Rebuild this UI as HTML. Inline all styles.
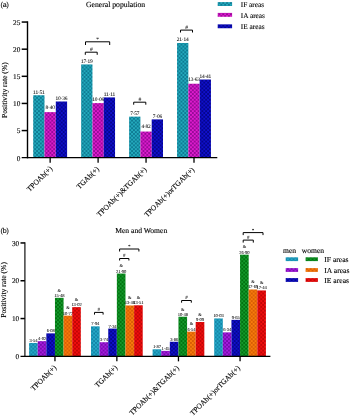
<!DOCTYPE html>
<html lang="en"><head><meta charset="utf-8"><title>Positivity rate charts</title>
<style>
html,body{margin:0;padding:0;background:#fff;}
body{width:350px;height:417px;overflow:hidden;}
svg{display:block;will-change:transform;}
text{fill:#000;text-rendering:geometricPrecision;stroke:#000;stroke-width:0.12px;}
text.s{stroke-width:0.04px;}
</style></head><body>
<svg width="350" height="417" viewBox="0 0 350 417">
<rect width="350" height="417" fill="#fff"/>
<defs>
<pattern id="paIF" width="3.8" height="3.8" patternUnits="userSpaceOnUse"><rect width="3.8" height="3.8" fill="#24aabd"/><rect width="1.9" height="1.9" fill="#0e7b93"/><rect x="1.9" y="1.9" width="1.9" height="1.9" fill="#0e7b93"/></pattern>
<pattern id="paIA" width="3.8" height="3.8" patternUnits="userSpaceOnUse"><rect width="3.8" height="3.8" fill="#dd1ccd"/><rect width="1.9" height="1.9" fill="#980a98"/><rect x="1.9" y="1.9" width="1.9" height="1.9" fill="#980a98"/></pattern>
<pattern id="paIE" width="3.8" height="3.8" patternUnits="userSpaceOnUse"><rect width="3.8" height="3.8" fill="#1010cc"/><rect width="1.9" height="1.9" fill="#05058e"/><rect x="1.9" y="1.9" width="1.9" height="1.9" fill="#05058e"/></pattern>
<pattern id="pmIF" width="3.8" height="3.8" patternUnits="userSpaceOnUse"><rect width="3.8" height="3.8" fill="#25a9c8"/><rect width="1.9" height="1.9" fill="#1486a8"/><rect x="1.9" y="1.9" width="1.9" height="1.9" fill="#1486a8"/></pattern>
<pattern id="pmIA" width="3.8" height="3.8" patternUnits="userSpaceOnUse"><rect width="3.8" height="3.8" fill="#a61cdf"/><rect width="1.9" height="1.9" fill="#790cae"/><rect x="1.9" y="1.9" width="1.9" height="1.9" fill="#790cae"/></pattern>
<pattern id="pmIE" width="3.8" height="3.8" patternUnits="userSpaceOnUse"><rect width="3.8" height="3.8" fill="#1010cc"/><rect width="1.9" height="1.9" fill="#05058e"/><rect x="1.9" y="1.9" width="1.9" height="1.9" fill="#05058e"/></pattern>
<pattern id="pwIF" width="3.8" height="3.8" patternUnits="userSpaceOnUse"><rect width="3.8" height="3.8" fill="#14992c"/><rect width="1.9" height="1.9" fill="#027310"/><rect x="1.9" y="1.9" width="1.9" height="1.9" fill="#027310"/></pattern>
<pattern id="pwIA" width="3.8" height="3.8" patternUnits="userSpaceOnUse"><rect width="3.8" height="3.8" fill="#f87c0c"/><rect width="1.9" height="1.9" fill="#d85e05"/><rect x="1.9" y="1.9" width="1.9" height="1.9" fill="#d85e05"/></pattern>
<pattern id="pwIE" width="3.8" height="3.8" patternUnits="userSpaceOnUse"><rect width="3.8" height="3.8" fill="#f20e0e"/><rect width="1.9" height="1.9" fill="#c20505"/><rect x="1.9" y="1.9" width="1.9" height="1.9" fill="#c20505"/></pattern>
</defs>
<text x="0.40" y="7.20" font-size="7" text-anchor="start" font-family="'Liberation Sans', 'DejaVu Sans', sans-serif" >(a)</text>
<text x="115.60" y="7.00" font-size="7.7" text-anchor="middle" font-family="'Liberation Serif', 'DejaVu Serif', serif" >General population</text>
<rect x="217.7" y="2.10" width="14.40" height="3.9" fill="url(#paIF)"/>
<text x="240.80" y="6.50" font-size="7.3" text-anchor="start" font-family="'Liberation Serif', 'DejaVu Serif', serif" >IF areas</text>
<rect x="217.7" y="12.90" width="14.40" height="3.9" fill="url(#paIA)"/>
<text x="240.80" y="17.70" font-size="7.3" text-anchor="start" font-family="'Liberation Serif', 'DejaVu Serif', serif" >IA areas</text>
<rect x="217.7" y="24.35" width="14.40" height="3.9" fill="url(#paIE)"/>
<text x="240.80" y="29.10" font-size="7.3" text-anchor="start" font-family="'Liberation Serif', 'DejaVu Serif', serif" >IE areas</text>
<rect x="33.20" y="95.25" width="11.3" height="62.45" fill="url(#paIF)"/>
<text x="38.85" y="93.65" font-size="5.4" text-anchor="middle" font-family="'Liberation Serif', 'DejaVu Serif', serif" class="s" letter-spacing="-0.18">11·51</text>
<rect x="44.50" y="112.12" width="11.3" height="45.58" fill="url(#paIA)"/>
<text x="50.15" y="109.32" font-size="5.4" text-anchor="middle" font-family="'Liberation Serif', 'DejaVu Serif', serif" class="s" letter-spacing="-0.18">8·40</text>
<rect x="55.80" y="101.49" width="11.3" height="56.21" fill="url(#paIE)"/>
<text x="61.45" y="99.89" font-size="5.4" text-anchor="middle" font-family="'Liberation Serif', 'DejaVu Serif', serif" class="s" letter-spacing="-0.18">10·36</text>
<rect x="81.15" y="64.43" width="11.3" height="93.27" fill="url(#paIF)"/>
<text x="86.80" y="62.83" font-size="5.4" text-anchor="middle" font-family="'Liberation Serif', 'DejaVu Serif', serif" class="s" letter-spacing="-0.18">17·19</text>
<rect x="92.45" y="103.11" width="11.3" height="54.59" fill="url(#paIA)"/>
<text x="98.10" y="100.71" font-size="5.4" text-anchor="middle" font-family="'Liberation Serif', 'DejaVu Serif', serif" class="s" letter-spacing="-0.18">10·06</text>
<rect x="103.75" y="97.42" width="11.3" height="60.28" fill="url(#paIE)"/>
<text x="109.40" y="95.82" font-size="5.4" text-anchor="middle" font-family="'Liberation Serif', 'DejaVu Serif', serif" class="s" letter-spacing="-0.18">11·11</text>
<rect x="129.10" y="116.63" width="11.3" height="41.07" fill="url(#paIF)"/>
<text x="134.75" y="115.03" font-size="5.4" text-anchor="middle" font-family="'Liberation Serif', 'DejaVu Serif', serif" class="s" letter-spacing="-0.18">7·57</text>
<rect x="140.40" y="131.55" width="11.3" height="26.15" fill="url(#paIA)"/>
<text x="146.05" y="128.15" font-size="5.4" text-anchor="middle" font-family="'Liberation Serif', 'DejaVu Serif', serif" class="s" letter-spacing="-0.18">4·82</text>
<rect x="151.70" y="119.39" width="11.3" height="38.31" fill="url(#paIE)"/>
<text x="157.35" y="117.79" font-size="5.4" text-anchor="middle" font-family="'Liberation Serif', 'DejaVu Serif', serif" class="s" letter-spacing="-0.18">7·06</text>
<rect x="177.05" y="42.99" width="11.3" height="114.71" fill="url(#paIF)"/>
<text x="182.70" y="41.39" font-size="5.4" text-anchor="middle" font-family="'Liberation Serif', 'DejaVu Serif', serif" class="s" letter-spacing="-0.18">21·14</text>
<rect x="188.35" y="83.74" width="11.3" height="73.96" fill="url(#paIA)"/>
<text x="194.00" y="81.34" font-size="5.4" text-anchor="middle" font-family="'Liberation Serif', 'DejaVu Serif', serif" class="s" letter-spacing="-0.18">13·63</text>
<rect x="199.65" y="79.51" width="11.3" height="78.19" fill="url(#paIE)"/>
<text x="205.30" y="77.91" font-size="5.4" text-anchor="middle" font-family="'Liberation Serif', 'DejaVu Serif', serif" class="s" letter-spacing="-0.18">14·41</text>
<path d="M27.5 21.30V158.35" stroke="#000" stroke-width="1.4" fill="none"/>
<path d="M21.7 157.7H217.3" stroke="#000" stroke-width="1.3" fill="none"/>
<text x="20.30" y="160.50" font-size="7.3" text-anchor="end" font-family="'Liberation Serif', 'DejaVu Serif', serif" >0</text>
<path d="M21.7 130.57H27.5" stroke="#000" stroke-width="1.5"/>
<text x="20.30" y="133.37" font-size="7.3" text-anchor="end" font-family="'Liberation Serif', 'DejaVu Serif', serif" >5</text>
<path d="M21.7 103.44H27.5" stroke="#000" stroke-width="1.5"/>
<text x="20.30" y="106.24" font-size="7.3" text-anchor="end" font-family="'Liberation Serif', 'DejaVu Serif', serif" >10</text>
<path d="M21.7 76.31H27.5" stroke="#000" stroke-width="1.5"/>
<text x="20.30" y="79.11" font-size="7.3" text-anchor="end" font-family="'Liberation Serif', 'DejaVu Serif', serif" >15</text>
<path d="M21.7 49.18H27.5" stroke="#000" stroke-width="1.5"/>
<text x="20.30" y="51.98" font-size="7.3" text-anchor="end" font-family="'Liberation Serif', 'DejaVu Serif', serif" >20</text>
<path d="M21.7 22.05H27.5" stroke="#000" stroke-width="1.5"/>
<text x="20.30" y="24.85" font-size="7.3" text-anchor="end" font-family="'Liberation Serif', 'DejaVu Serif', serif" >25</text>
<path d="M50.15 157.7V162.70" stroke="#000" stroke-width="1.3"/>
<text x="52.85" y="169.00" font-size="7.5" text-anchor="end" font-family="'Liberation Serif', 'DejaVu Serif', serif" transform="rotate(-45 52.85 169.00)">TPOAb(+)</text>
<path d="M98.10 157.7V162.70" stroke="#000" stroke-width="1.3"/>
<text x="99.60" y="169.50" font-size="7.5" text-anchor="end" font-family="'Liberation Serif', 'DejaVu Serif', serif" transform="rotate(-45 99.60 169.50)">TGAb(+)</text>
<path d="M146.05 157.7V162.70" stroke="#000" stroke-width="1.3"/>
<text x="146.95" y="169.90" font-size="7.5" text-anchor="end" font-family="'Liberation Serif', 'DejaVu Serif', serif" transform="rotate(-45 146.95 169.90)">TPOAb(+)&amp;TGAb(+)</text>
<path d="M194.00 157.7V162.70" stroke="#000" stroke-width="1.3"/>
<text x="194.70" y="170.10" font-size="7.5" text-anchor="end" font-family="'Liberation Serif', 'DejaVu Serif', serif" transform="rotate(-45 194.70 170.10)">TPOAb(+)orTGAb(+)</text>
<text x="0.00" y="0.00" font-size="7.6" text-anchor="middle" font-family="'Liberation Serif', 'DejaVu Serif', serif" transform="translate(6.5 90.1) rotate(-90)">Positivity rate (%)</text>
<path d="M85.50 45.00V41.80H109.70V45.00" fill="none" stroke="#000" stroke-width="1.0"/>
<text x="97.60" y="41.10" font-size="5.5" text-anchor="middle" font-family="'Liberation Serif', 'DejaVu Serif', serif" class="s">*</text>
<path d="M85.30 54.80V52.20H97.20V54.80" fill="none" stroke="#000" stroke-width="1.0"/>
<text x="91.25" y="50.90" font-size="5.5" text-anchor="middle" font-family="'Liberation Serif', 'DejaVu Serif', serif" class="s">#</text>
<path d="M133.70 104.70V102.20H145.80V104.70" fill="none" stroke="#000" stroke-width="1.0"/>
<text x="139.75" y="100.90" font-size="5.5" text-anchor="middle" font-family="'Liberation Serif', 'DejaVu Serif', serif" class="s">#</text>
<path d="M180.50 32.50V30.10H192.50V32.50" fill="none" stroke="#000" stroke-width="1.0"/>
<text x="186.50" y="28.80" font-size="5.5" text-anchor="middle" font-family="'Liberation Serif', 'DejaVu Serif', serif" class="s">#</text>
<text x="0.40" y="233.10" font-size="7" text-anchor="start" font-family="'Liberation Sans', 'DejaVu Sans', sans-serif" >(b)</text>
<text x="141.20" y="233.40" font-size="7.6" text-anchor="middle" font-family="'Liberation Serif', 'DejaVu Serif', serif" >Men and Women</text>
<rect x="29.10" y="342.97" width="8.62" height="13.38" fill="url(#pmIF)"/>
<text x="33.41" y="341.97" font-size="4.6" text-anchor="middle" font-family="'Liberation Serif', 'DejaVu Serif', serif" class="s" letter-spacing="-0.12">3·54</text>
<rect x="37.72" y="341.15" width="8.62" height="15.20" fill="url(#pmIA)"/>
<text x="42.03" y="340.15" font-size="4.6" text-anchor="middle" font-family="'Liberation Serif', 'DejaVu Serif', serif" class="s" letter-spacing="-0.12">4·02</text>
<rect x="46.34" y="333.37" width="8.62" height="22.98" fill="url(#pmIE)"/>
<text x="50.65" y="332.37" font-size="4.6" text-anchor="middle" font-family="'Liberation Serif', 'DejaVu Serif', serif" class="s" letter-spacing="-0.12">6·08</text>
<rect x="54.96" y="297.84" width="8.62" height="58.51" fill="url(#pwIF)"/>
<text x="59.27" y="296.84" font-size="4.6" text-anchor="middle" font-family="'Liberation Serif', 'DejaVu Serif', serif" class="s" letter-spacing="-0.12">15·48</text>
<text x="59.27" y="291.64" font-size="4.4" text-anchor="middle" font-family="'Liberation Serif', 'DejaVu Serif', serif" class="s">&amp;</text>
<rect x="63.58" y="315.64" width="8.62" height="40.71" fill="url(#pwIA)"/>
<text x="67.89" y="314.64" font-size="4.6" text-anchor="middle" font-family="'Liberation Serif', 'DejaVu Serif', serif" class="s" letter-spacing="-0.12">10·77</text>
<text x="67.89" y="309.44" font-size="4.4" text-anchor="middle" font-family="'Liberation Serif', 'DejaVu Serif', serif" class="s">&amp;</text>
<rect x="72.20" y="307.13" width="8.62" height="49.22" fill="url(#pwIE)"/>
<text x="76.51" y="306.13" font-size="4.6" text-anchor="middle" font-family="'Liberation Serif', 'DejaVu Serif', serif" class="s" letter-spacing="-0.12">13·02</text>
<text x="76.51" y="300.93" font-size="4.4" text-anchor="middle" font-family="'Liberation Serif', 'DejaVu Serif', serif" class="s">&amp;</text>
<rect x="91.00" y="326.34" width="8.62" height="30.01" fill="url(#pmIF)"/>
<text x="95.31" y="325.34" font-size="4.6" text-anchor="middle" font-family="'Liberation Serif', 'DejaVu Serif', serif" class="s" letter-spacing="-0.12">7·94</text>
<rect x="99.62" y="342.21" width="8.62" height="14.14" fill="url(#pmIA)"/>
<text x="103.93" y="341.21" font-size="4.6" text-anchor="middle" font-family="'Liberation Serif', 'DejaVu Serif', serif" class="s" letter-spacing="-0.12">3·74</text>
<rect x="108.24" y="328.60" width="8.62" height="27.75" fill="url(#pmIE)"/>
<text x="112.55" y="327.60" font-size="4.6" text-anchor="middle" font-family="'Liberation Serif', 'DejaVu Serif', serif" class="s" letter-spacing="-0.12">7·34</text>
<rect x="116.86" y="273.57" width="8.62" height="82.78" fill="url(#pwIF)"/>
<text x="121.17" y="272.57" font-size="4.6" text-anchor="middle" font-family="'Liberation Serif', 'DejaVu Serif', serif" class="s" letter-spacing="-0.12">21·90</text>
<text x="121.17" y="267.37" font-size="4.4" text-anchor="middle" font-family="'Liberation Serif', 'DejaVu Serif', serif" class="s">&amp;</text>
<rect x="125.48" y="305.47" width="8.62" height="50.88" fill="url(#pwIA)"/>
<text x="129.79" y="304.47" font-size="4.6" text-anchor="middle" font-family="'Liberation Serif', 'DejaVu Serif', serif" class="s" letter-spacing="-0.12">13·46</text>
<text x="129.79" y="299.27" font-size="4.4" text-anchor="middle" font-family="'Liberation Serif', 'DejaVu Serif', serif" class="s">&amp;</text>
<rect x="134.10" y="305.28" width="8.62" height="51.07" fill="url(#pwIE)"/>
<text x="138.41" y="304.28" font-size="4.6" text-anchor="middle" font-family="'Liberation Serif', 'DejaVu Serif', serif" class="s" letter-spacing="-0.12">13·51</text>
<text x="138.41" y="299.08" font-size="4.4" text-anchor="middle" font-family="'Liberation Serif', 'DejaVu Serif', serif" class="s">&amp;</text>
<rect x="152.60" y="349.28" width="8.62" height="7.07" fill="url(#pmIF)"/>
<text x="156.91" y="348.28" font-size="4.6" text-anchor="middle" font-family="'Liberation Serif', 'DejaVu Serif', serif" class="s" letter-spacing="-0.12">1·87</text>
<rect x="161.22" y="350.87" width="8.62" height="5.48" fill="url(#pmIA)"/>
<text x="165.53" y="349.87" font-size="4.6" text-anchor="middle" font-family="'Liberation Serif', 'DejaVu Serif', serif" class="s" letter-spacing="-0.12">1·45</text>
<rect x="169.84" y="341.76" width="8.62" height="14.59" fill="url(#pmIE)"/>
<text x="174.15" y="340.76" font-size="4.6" text-anchor="middle" font-family="'Liberation Serif', 'DejaVu Serif', serif" class="s" letter-spacing="-0.12">3·86</text>
<rect x="178.46" y="316.74" width="8.62" height="39.61" fill="url(#pwIF)"/>
<text x="182.77" y="315.74" font-size="4.6" text-anchor="middle" font-family="'Liberation Serif', 'DejaVu Serif', serif" class="s" letter-spacing="-0.12">10·48</text>
<text x="182.77" y="310.54" font-size="4.4" text-anchor="middle" font-family="'Liberation Serif', 'DejaVu Serif', serif" class="s">&amp;</text>
<rect x="187.08" y="331.63" width="8.62" height="24.72" fill="url(#pwIA)"/>
<text x="191.39" y="330.63" font-size="4.6" text-anchor="middle" font-family="'Liberation Serif', 'DejaVu Serif', serif" class="s" letter-spacing="-0.12">6·54</text>
<text x="191.39" y="325.43" font-size="4.4" text-anchor="middle" font-family="'Liberation Serif', 'DejaVu Serif', serif" class="s">&amp;</text>
<rect x="195.70" y="321.99" width="8.62" height="34.36" fill="url(#pwIE)"/>
<text x="200.01" y="320.99" font-size="4.6" text-anchor="middle" font-family="'Liberation Serif', 'DejaVu Serif', serif" class="s" letter-spacing="-0.12">9·09</text>
<text x="200.01" y="315.79" font-size="4.4" text-anchor="middle" font-family="'Liberation Serif', 'DejaVu Serif', serif" class="s">&amp;</text>
<rect x="214.20" y="318.44" width="8.62" height="37.91" fill="url(#pmIF)"/>
<text x="218.51" y="317.44" font-size="4.6" text-anchor="middle" font-family="'Liberation Serif', 'DejaVu Serif', serif" class="s" letter-spacing="-0.12">10·03</text>
<rect x="222.82" y="332.38" width="8.62" height="23.97" fill="url(#pmIA)"/>
<text x="227.13" y="331.38" font-size="4.6" text-anchor="middle" font-family="'Liberation Serif', 'DejaVu Serif', serif" class="s" letter-spacing="-0.12">6·34</text>
<rect x="231.44" y="319.87" width="8.62" height="36.48" fill="url(#pmIE)"/>
<text x="235.75" y="318.87" font-size="4.6" text-anchor="middle" font-family="'Liberation Serif', 'DejaVu Serif', serif" class="s" letter-spacing="-0.12">9·65</text>
<rect x="240.06" y="254.67" width="8.62" height="101.68" fill="url(#pwIF)"/>
<text x="244.37" y="253.67" font-size="4.6" text-anchor="middle" font-family="'Liberation Serif', 'DejaVu Serif', serif" class="s" letter-spacing="-0.12">26·90</text>
<text x="244.37" y="248.47" font-size="4.4" text-anchor="middle" font-family="'Liberation Serif', 'DejaVu Serif', serif" class="s">&amp;</text>
<rect x="248.68" y="289.48" width="8.62" height="66.87" fill="url(#pwIA)"/>
<text x="252.99" y="288.48" font-size="4.6" text-anchor="middle" font-family="'Liberation Serif', 'DejaVu Serif', serif" class="s" letter-spacing="-0.12">17·69</text>
<text x="252.99" y="283.28" font-size="4.4" text-anchor="middle" font-family="'Liberation Serif', 'DejaVu Serif', serif" class="s">&amp;</text>
<rect x="257.30" y="290.43" width="8.62" height="65.92" fill="url(#pwIE)"/>
<text x="261.61" y="289.43" font-size="4.6" text-anchor="middle" font-family="'Liberation Serif', 'DejaVu Serif', serif" class="s" letter-spacing="-0.12">17·44</text>
<text x="261.61" y="284.23" font-size="4.4" text-anchor="middle" font-family="'Liberation Serif', 'DejaVu Serif', serif" class="s">&amp;</text>
<path d="M24.9 242.20V357.00" stroke="#222" stroke-width="1.3" fill="none"/>
<path d="M20.5 356.35H270.4" stroke="#000" stroke-width="1.3" fill="none"/>
<text x="19.20" y="359.05" font-size="7.3" text-anchor="end" font-family="'Liberation Serif', 'DejaVu Serif', serif" >0</text>
<path d="M20.5 318.55H24.9" stroke="#000" stroke-width="1.5"/>
<text x="19.20" y="321.25" font-size="7.3" text-anchor="end" font-family="'Liberation Serif', 'DejaVu Serif', serif" >10</text>
<path d="M20.5 280.75H24.9" stroke="#000" stroke-width="1.5"/>
<text x="19.20" y="283.45" font-size="7.3" text-anchor="end" font-family="'Liberation Serif', 'DejaVu Serif', serif" >20</text>
<path d="M20.5 242.95H24.9" stroke="#000" stroke-width="1.5"/>
<text x="19.20" y="245.65" font-size="7.3" text-anchor="end" font-family="'Liberation Serif', 'DejaVu Serif', serif" >30</text>
<path d="M54.96 356.35V361.35" stroke="#000" stroke-width="1.3"/>
<text x="56.76" y="368.10" font-size="7.5" text-anchor="end" font-family="'Liberation Serif', 'DejaVu Serif', serif" transform="rotate(-45 56.76 368.10)">TPOAb(+)</text>
<path d="M116.86 356.35V361.35" stroke="#000" stroke-width="1.3"/>
<text x="117.86" y="368.00" font-size="7.5" text-anchor="end" font-family="'Liberation Serif', 'DejaVu Serif', serif" transform="rotate(-45 117.86 368.00)">TGAb(+)</text>
<path d="M178.46 356.35V361.35" stroke="#000" stroke-width="1.3"/>
<text x="179.46" y="368.50" font-size="7.5" text-anchor="end" font-family="'Liberation Serif', 'DejaVu Serif', serif" transform="rotate(-45 179.46 368.50)">TPOAb(+)&amp;TGAb(+)</text>
<path d="M240.06 356.35V361.35" stroke="#000" stroke-width="1.3"/>
<text x="240.46" y="368.50" font-size="7.5" text-anchor="end" font-family="'Liberation Serif', 'DejaVu Serif', serif" transform="rotate(-45 240.46 368.50)">TPOAb(+)orTGAb(+)</text>
<text x="0.00" y="0.00" font-size="7.6" text-anchor="middle" font-family="'Liberation Serif', 'DejaVu Serif', serif" transform="translate(6.4 289.9) rotate(-90)">Positivity rate (%)</text>
<path d="M94.50 314.60V312.40H103.10V314.60" fill="none" stroke="#000" stroke-width="1.0"/>
<text x="98.80" y="311.10" font-size="5" text-anchor="middle" font-family="'Liberation Serif', 'DejaVu Serif', serif" class="s">#</text>
<path d="M119.60 251.50V249.00H138.90V251.50" fill="none" stroke="#000" stroke-width="1.0"/>
<text x="129.25" y="248.30" font-size="5" text-anchor="middle" font-family="'Liberation Serif', 'DejaVu Serif', serif" class="s">*</text>
<path d="M119.60 260.50V258.50H128.90V260.50" fill="none" stroke="#000" stroke-width="1.0"/>
<text x="124.25" y="257.20" font-size="5" text-anchor="middle" font-family="'Liberation Serif', 'DejaVu Serif', serif" class="s">#</text>
<path d="M181.60 302.70V300.50H191.30V302.70" fill="none" stroke="#000" stroke-width="1.0"/>
<text x="186.45" y="299.20" font-size="5" text-anchor="middle" font-family="'Liberation Serif', 'DejaVu Serif', serif" class="s">#</text>
<path d="M243.20 235.10V232.60H263.00V235.10" fill="none" stroke="#000" stroke-width="1.0"/>
<text x="253.10" y="231.90" font-size="5" text-anchor="middle" font-family="'Liberation Serif', 'DejaVu Serif', serif" class="s">*</text>
<path d="M243.20 242.60V240.10H253.30V242.60" fill="none" stroke="#000" stroke-width="1.0"/>
<text x="248.25" y="238.80" font-size="5" text-anchor="middle" font-family="'Liberation Serif', 'DejaVu Serif', serif" class="s">#</text>
<text x="283.10" y="252.60" font-size="7.6" text-anchor="start" font-family="'Liberation Serif', 'DejaVu Serif', serif" >men</text>
<text x="301.80" y="252.60" font-size="7.6" text-anchor="start" font-family="'Liberation Serif', 'DejaVu Serif', serif" >women</text>
<rect x="285.7" y="257.30" width="12.4" height="3.8" fill="url(#pmIF)"/>
<rect x="305.6" y="257.30" width="12.3" height="3.8" fill="url(#pwIF)"/>
<text x="324.30" y="261.60" font-size="7.6" text-anchor="start" font-family="'Liberation Serif', 'DejaVu Serif', serif" >IF areas</text>
<rect x="285.7" y="268.10" width="12.4" height="3.8" fill="url(#pmIA)"/>
<rect x="305.6" y="268.10" width="12.3" height="3.8" fill="url(#pwIA)"/>
<text x="324.30" y="272.70" font-size="7.6" text-anchor="start" font-family="'Liberation Serif', 'DejaVu Serif', serif" >IA areas</text>
<rect x="285.7" y="278.10" width="12.4" height="3.8" fill="url(#pmIE)"/>
<rect x="305.6" y="278.10" width="12.3" height="3.8" fill="url(#pwIE)"/>
<text x="324.30" y="283.00" font-size="7.6" text-anchor="start" font-family="'Liberation Serif', 'DejaVu Serif', serif" >IE areas</text>
</svg>
</body></html>
